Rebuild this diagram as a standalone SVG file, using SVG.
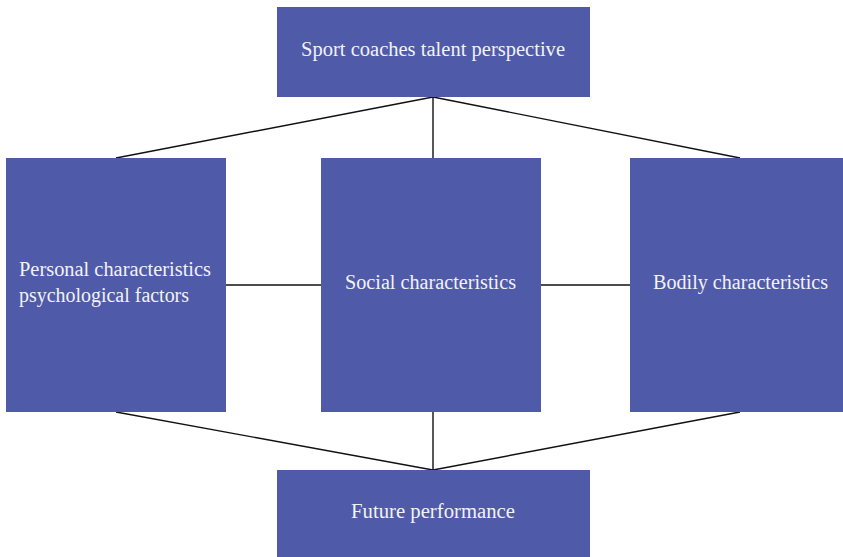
<svg xmlns="http://www.w3.org/2000/svg" width="843" height="557" viewBox="0 0 843 557">
<style>
.box{fill:#4F5AA8}
.t{font-family:"Liberation Serif","DejaVu Serif",serif;font-size:20px;fill:#F2F2F7}
.c{stroke:#111;stroke-width:1.4;fill:none}
</style>
<rect width="843" height="557" fill="#fff"/>
<g id="connectors">
<line class="c" x1="433" y1="97" x2="116" y2="158"/>
<line class="c" x1="433" y1="97" x2="433" y2="158"/>
<line class="c" x1="433" y1="97" x2="740" y2="158"/>
<line class="c" x1="226" y1="285" x2="321" y2="285"/>
<line class="c" x1="541" y1="285" x2="630" y2="285"/>
<line class="c" x1="116" y1="412" x2="433" y2="470"/>
<line class="c" x1="433" y1="412" x2="433" y2="470"/>
<line class="c" x1="740" y1="412" x2="433" y2="470"/>
</g>
<g id="top">
<rect class="box" x="277" y="7" width="313" height="90"/>
<text class="t" x="433" y="56" text-anchor="middle" textLength="264" lengthAdjust="spacingAndGlyphs">Sport coaches talent perspective</text>
</g>
<g id="personal">
<rect class="box" x="6" y="158" width="220" height="254"/>
<text class="t" x="19" y="276" textLength="192" lengthAdjust="spacingAndGlyphs">Personal characteristics</text>
<text class="t" x="19" y="302" textLength="170" lengthAdjust="spacingAndGlyphs">psychological factors</text>
</g>
<g id="social">
<rect class="box" x="321" y="158" width="220" height="254"/>
<text class="t" x="430.5" y="289" text-anchor="middle" textLength="171" lengthAdjust="spacingAndGlyphs">Social characteristics</text>
</g>
<g id="bodily">
<rect class="box" x="630" y="158" width="213" height="254"/>
<text class="t" x="740.5" y="289" text-anchor="middle" textLength="175" lengthAdjust="spacingAndGlyphs">Bodily characteristics</text>
</g>
<g id="future">
<rect class="box" x="277" y="470" width="313" height="87"/>
<text class="t" x="433" y="518" text-anchor="middle" textLength="164" lengthAdjust="spacingAndGlyphs">Future performance</text>
</g>
</svg>
